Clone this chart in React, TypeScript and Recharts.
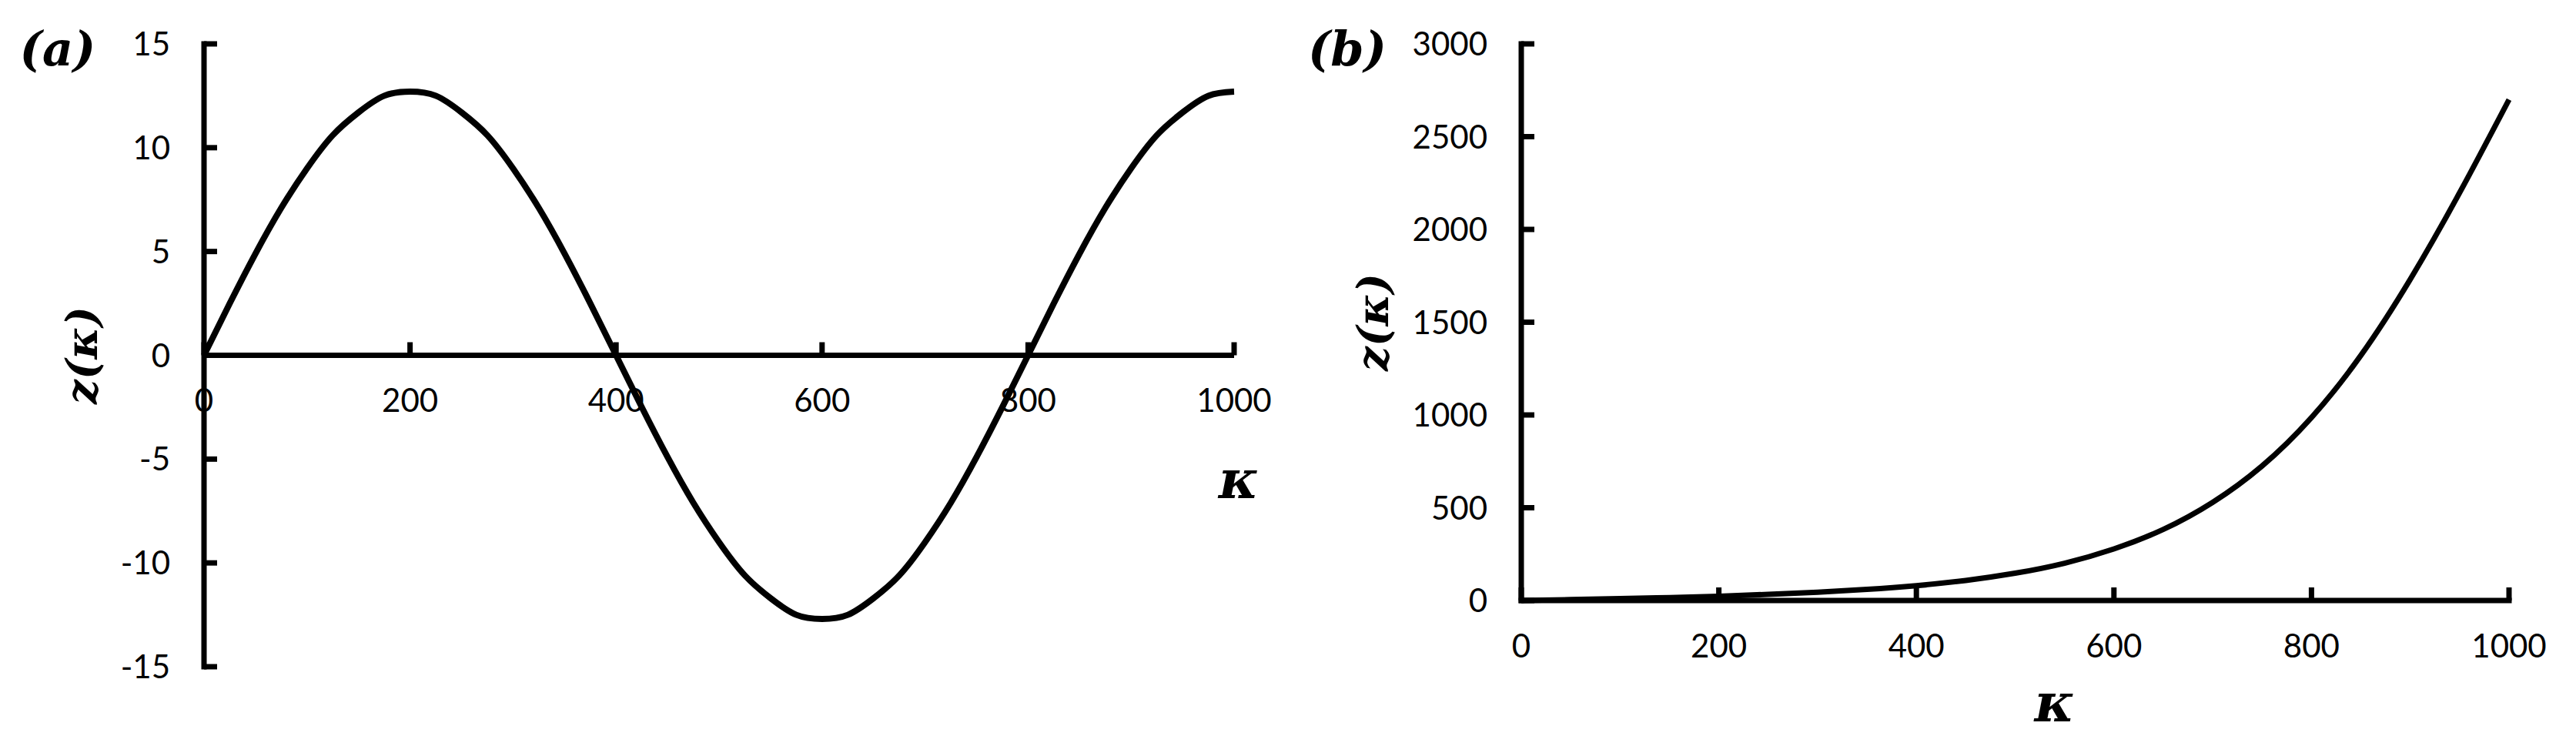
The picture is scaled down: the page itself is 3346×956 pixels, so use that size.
import { LineChart, Line, XAxis, YAxis, ReferenceLine, ReferenceDot } from "recharts";

const SINE_K = [
  0, 25, 50, 75, 100, 125, 150, 175, 200, 225, 250, 275, 300, 325, 350, 375, 400,
  425, 450, 475, 500, 525, 550, 575, 600, 625, 650, 675, 700, 725, 750, 775, 800,
  825, 850, 875, 900, 925, 950, 975, 1000,
];
const SINE_Z = [
  0, 2.5, 4.9, 7.1, 9.0, 10.6, 11.7, 12.5, 12.7, 12.5, 11.7, 10.6, 9.0, 7.1, 4.9, 2.5, 0,
  -2.5, -4.9, -7.1, -9.0, -10.6, -11.7, -12.5, -12.7, -12.5, -11.7, -10.6, -9.0, -7.1, -4.9, -2.5, 0,
  2.5, 4.9, 7.1, 9.0, 10.6, 11.7, 12.5, 12.7,
];

// (b) growing solution
const GROW_K = [0, 50, 100, 150, 200, 250, 300, 350, 400, 450, 500, 550, 600, 650, 700, 750, 800, 850, 900, 950, 1000];
const GROW_Z = [0, 5, 10, 16, 23, 33, 45, 60, 80, 108, 147, 201, 278, 383, 529, 725, 986, 1321, 1731, 2198, 2700];

const A_X_TICKS = [0, 200, 400, 600, 800, 1000];
const A_Y_TICKS = [-15, -10, -5, 0, 5, 10, 15];
const B_X_TICKS = [0, 200, 400, 600, 800, 1000];
const B_Y_TICKS = [0, 500, 1000, 1500, 2000, 2500, 3000];

const sineData = SINE_K.map((k, i) => ({ k, z: SINE_Z[i] }));
const growData = GROW_K.map((k, i) => ({ k, z: GROW_Z[i] }));

const INK = "#000";
const AXIS_W = 7;
const TICK_LEN = 17;
const TICK_GAP = 44;
const TICK_FONT = "Lato, 'Liberation Sans', sans-serif";
const TICK_SIZE = 42;
const MATH_FONT = "'DejaVu Serif', serif";

const axisLine = { stroke: INK, strokeWidth: AXIS_W, strokeLinecap: "square" as const };

// inward tick + label for a left y axis
function YTick({ x, y, payload }: any) {
  const ax = x + TICK_GAP;
  return (
    <g>
      <line x1={ax} x2={ax + TICK_LEN} y1={y} y2={y} stroke={INK} strokeWidth={AXIS_W} />
      <text x={x} y={y} dy="0.36em" textAnchor="end" fontFamily={TICK_FONT} fontSize={TICK_SIZE} fill={INK}>
        {payload.value}
      </text>
    </g>
  );
}

// inward tick + label for a bottom x axis
function XTick({ x, y, payload }: any) {
  const ay = y - TICK_GAP;
  return (
    <g>
      <line x1={x} x2={x} y1={ay} y2={ay - TICK_LEN} stroke={INK} strokeWidth={AXIS_W} />
      <text x={x} y={y} dy="0.71em" textAnchor="middle" fontFamily={TICK_FONT} fontSize={TICK_SIZE} fill={INK}>
        {payload.value}
      </text>
    </g>
  );
}

// tick on the zero line of panel (a)
function ZeroAxisTick({ cx, cy, value }: any) {
  return (
    <g>
      <line x1={cx} x2={cx} y1={cy} y2={cy - TICK_LEN} stroke={INK} strokeWidth={AXIS_W} />
      <text x={cx} y={cy + TICK_GAP} dy="0.71em" textAnchor="middle" fontFamily={TICK_FONT} fontSize={TICK_SIZE} fill={INK}>
        {value}
      </text>
    </g>
  );
}

function yLabel(shift: number) {
  return (props: any) => {
    const vb = props.viewBox || { x: 0, y: 0, width: 0, height: 0 };
    const cx = vb.x + vb.width - shift;
    const cy = vb.y + vb.height / 2;
    return (
      <text
        x={cx}
        y={cy}
        dy="0.33em"
        transform={`rotate(-90 ${cx} ${cy})`}
        textAnchor="middle"
        fontFamily={MATH_FONT}
        fontStyle="italic"
        fontWeight="bold"
        fontSize={56}
        fill={INK}
      >
        z(κ)
      </text>
    );
  };
}

function Kappa({ x, y }: { x: number; y: number }) {
  return (
    <text x={x} y={y} dy="0.25em" textAnchor="middle" fontFamily={MATH_FONT} fontStyle="italic" fontWeight="bold" fontSize={70} fill={INK}>
      κ
    </text>
  );
}

const kappaA = (props: any) => {
  const vb = props.viewBox || { x: 0, y: 0, width: 0, height: 0 };
  return <Kappa x={vb.x + vb.width + 6} y={vb.y + 168} />;
};

const kappaB = (props: any) => {
  const vb = props.viewBox || { x: 0, y: 0, width: 0, height: 0 };
  return <Kappa x={vb.x + vb.width * 0.54} y={vb.y + 139} />;
};

function PanelTag({ text, cx, cy }: { text: string; cx: number; cy: number }) {
  return (
    <div
      style={{
        position: "absolute",
        left: cx - 100,
        top: cy - 33,
        width: 200,
        textAlign: "center",
        font: `italic bold 62px/62px ${MATH_FONT}`,
        color: INK,
      }}
    >
      {text}
    </div>
  );
}

export default function App() {
  return (
    <div style={{ position: "absolute", left: 0, top: 0, width: 3346, height: 956, background: "#fff", overflow: "hidden" }}>
      <PanelTag text="(a)" cx={75} cy={66} />
      <PanelTag text="(b)" cx={1750} cy={66} />

      {/* (a) */}
      <div style={{ position: "absolute", left: 0, top: 0 }}>
        <LineChart width={1700} height={956} data={sineData} margin={{ top: 57, right: 97, bottom: 90, left: 205 }}>
          <XAxis type="number" dataKey="k" domain={[0, 1000]} ticks={A_X_TICKS} hide />
          <YAxis
            type="number"
            domain={[-15, 15]}
            ticks={A_Y_TICKS}
            interval={0}
            width={60}
            axisLine={axisLine}
            tickLine={false}
            tickSize={0}
            tickMargin={TICK_GAP}
            tick={(p: any) => <YTick {...p} />}
            label={yLabel(157)}
          />
          <ReferenceLine y={0} stroke={INK} strokeWidth={AXIS_W} label={kappaA} />
          {A_X_TICKS.map((v) => (
            <ReferenceDot key={v} x={v} y={0} r={0} shape={(p: any) => <ZeroAxisTick {...p} value={v} />} />
          ))}
          <Line type="natural" dataKey="z" stroke={INK} strokeWidth={8} dot={false} isAnimationActive={false} />
        </LineChart>
      </div>

      {/* (b) */}
      <div style={{ position: "absolute", left: 1700, top: 0 }}>
        <LineChart width={1646} height={956} data={growData} margin={{ top: 57, right: 87, bottom: 116, left: 216 }}>
          <XAxis
            type="number"
            dataKey="k"
            domain={[0, 1000]}
            ticks={B_X_TICKS}
            interval={0}
            height={60}
            axisLine={axisLine}
            tickLine={false}
            tickSize={0}
            tickMargin={TICK_GAP}
            tick={(p: any) => <XTick {...p} />}
            label={kappaB}
          />
          <YAxis
            type="number"
            domain={[0, 3000]}
            ticks={B_Y_TICKS}
            interval={0}
            width={60}
            axisLine={axisLine}
            tickLine={false}
            tickSize={0}
            tickMargin={TICK_GAP}
            tick={(p: any) => <YTick {...p} />}
            label={yLabel(191)}
          />
          <Line type="natural" dataKey="z" stroke={INK} strokeWidth={7} dot={false} isAnimationActive={false} />
        </LineChart>
      </div>
    </div>
  );
}
